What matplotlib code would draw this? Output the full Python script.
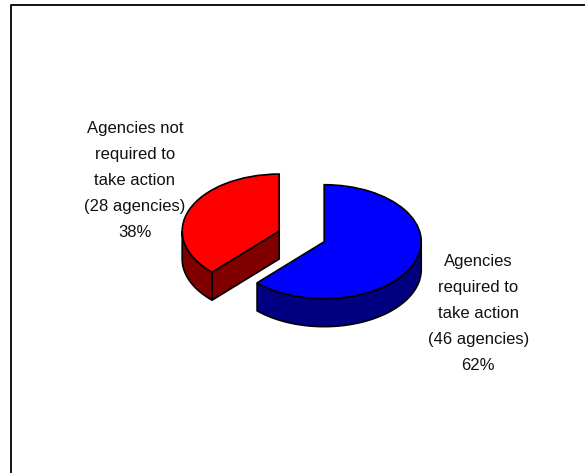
import numpy as np
import matplotlib
matplotlib.use("Agg")
import matplotlib.pyplot as plt
from matplotlib.patches import Polygon
from matplotlib.lines import Line2D

# ---- data ----
categories = ["Agencies required to take action", "Agencies not required to take action"]
label_lines = [["Agencies", "required to", "take action"],
               ["Agencies not", "required to", "take action"]]
counts = [46, 28]
top_colors = ["#0000FF", "#FF0000"]
side_colors = ["#000080", "#800000"]

total = sum(counts)
pcts = [c / total * 100 for c in counts]

plt.rcParams['font.family'] = ['Liberation Sans', 'DejaVu Sans']

W, H = 585, 473
fig = plt.figure(figsize=(W / 100, H / 100), dpi=100)
ax = fig.add_axes([0, 0, 1, 1])

wedges, _ = ax.pie(counts, colors=top_colors, startangle=90, counterclock=False,
                   explode=[0.25, 0.25], radius=1.0,
                   wedgeprops=dict(edgecolor="black", linewidth=1.2))

depth = 0.49  # extrusion depth in y data units

for w, sc in zip(wedges, side_colors):
    w.set_zorder(3)
    cx, cy = w.center
    r = w.r
    t1, t2 = w.theta1, w.theta2
    # radial faces facing the viewer
    for th in (t1, t2):
        c = np.cos(np.radians(th))
        visible = (th == t1 and c > 1e-6) or (th == t2 and c < -1e-6)
        if visible:
            ex, ey = cx + r * np.cos(np.radians(th)), cy + r * np.sin(np.radians(th))
            poly = Polygon([(cx, cy), (ex, ey), (ex, ey - depth), (cx, cy - depth)],
                           closed=True, facecolor=sc, edgecolor="black",
                           linewidth=1.2, zorder=1)
            ax.add_patch(poly)
    # outer wall (front half of the arc)
    for lo, hi in ((180, 360), (-180, 0), (540, 720)):
        a = max(t1, lo)
        b = min(t2, hi)
        if b > a:
            th = np.radians(np.linspace(a, b, 200))
            xs = cx + r * np.cos(th)
            ys = cy + r * np.sin(th)
            pts = list(zip(xs, ys)) + list(zip(xs[::-1], ys[::-1] - depth))
            ax.add_patch(Polygon(pts, closed=True, facecolor=sc, edgecolor="black",
                                 linewidth=1.2, zorder=2))

# labels
label_pos = [(1.82, -1.35), (-1.72, 0.98)]
for lines, c, p, (lx, ly) in zip(label_lines, counts, pcts, label_pos):
    txt = "\n".join(lines + [f"({c} agencies)", f"{p:.0f}%"])
    ax.text(lx, ly, txt, ha="center", va="center", multialignment="center",
            fontsize=12, linespacing=1.92, color="#111111", zorder=5)

ax.set_aspect("auto")
px_x, px_y = 97.0, 57.0
cxp, cyp = 301.7, 236.4
ax.set_xlim(-cxp / px_x, (W - cxp) / px_x)
ax.set_ylim(-(H - cyp) / px_y, cyp / px_y)
ax.axis("off")

# frame lines (left and top)
fig.add_artist(Line2D([10.5 / W, 10.5 / W, 1.0], [0.0, 1 - 5.5 / H, 1 - 5.5 / H],
                      transform=fig.transFigure, color="black", linewidth=1.3))

fig.savefig("out.png", dpi=100)
